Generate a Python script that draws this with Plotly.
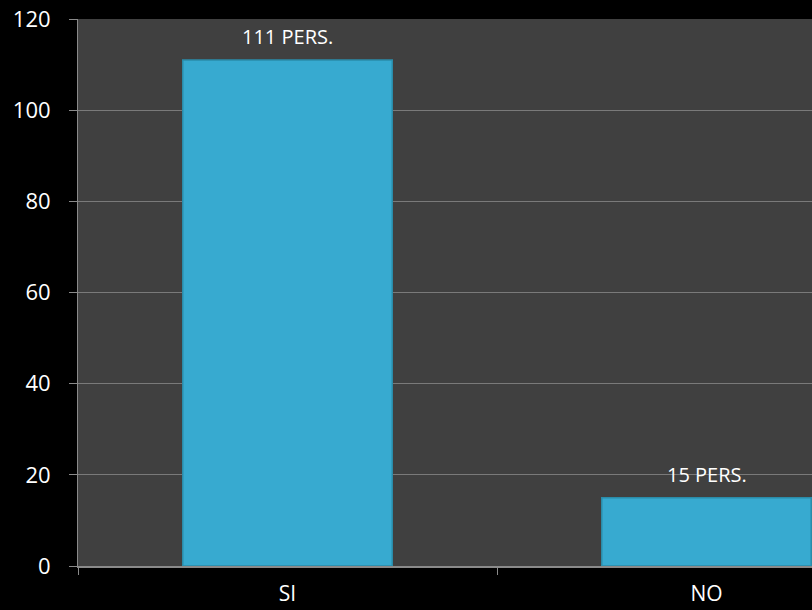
import plotly.graph_objects as go

categories = ["SI", "NO"]
values = [111, 15]
bar_labels = ["111 PERS.", "15 PERS."]
y_ticks = [0, 20, 40, 60, 80, 100, 120]

fig = go.Figure()
fig.add_trace(go.Bar(
    x=categories, y=values, width=0.5,
    marker=dict(color="#37AAD0", line=dict(color="#2A8CA9", width=1.5)),
    hoverinfo="skip",
))
for c, v, t in zip(categories, values, bar_labels):
    fig.add_annotation(x=c, y=v, text=t, showarrow=False, yanchor="bottom",
                       yshift=8, font=dict(family="Open Sans", size=20, color="white"))

fig.update_layout(
    width=812, height=610,
    margin=dict(l=78, r=0, t=19, b=44),
    paper_bgcolor="black", plot_bgcolor="#404040",
    showlegend=False,
)
fig.update_xaxes(
    type="category", range=[-0.5, 1.2518], automargin=False,
    tickson="boundaries", ticks="outside", ticklen=7, tickcolor="#8a8a8a",
    showline=True, linecolor="#8a8a8a", linewidth=1.5,
    showgrid=False, ticklabelstandoff=8,
    tickfont=dict(family="Open Sans", size=21, color="white"),
)
fig.update_yaxes(
    range=[0, 120], tickvals=y_ticks, ticks="outside", ticklen=8, tickcolor="#8a8a8a",
    showline=True, linecolor="#8a8a8a", linewidth=1, automargin=False,
    gridcolor="#7a7a7a", gridwidth=1, zeroline=False,
    ticklabelstandoff=14,
    tickfont=dict(family="Open Sans", size=22, color="white"),
)
fig.write_html("out.html")
